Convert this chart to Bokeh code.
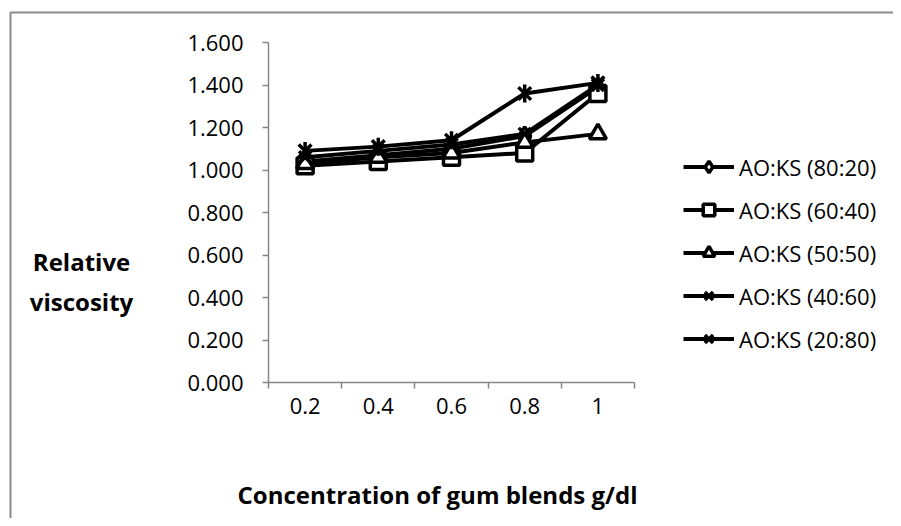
from bokeh.plotting import figure
from bokeh.models import (Range1d, FixedTicker, PrintfTickFormatter, Legend, LegendItem,
                          Label)
from bokeh.embed import file_html
from bokeh.resources import INLINE
import math

# ---- data ----
conc = [0.2, 0.4, 0.6, 0.8, 1.0]
x_labels = ["0.2", "0.4", "0.6", "0.8", "1"]
y_ticks = [0.0, 0.2, 0.4, 0.6, 0.8, 1.0, 1.2, 1.4, 1.6]

names = ["AO:KS (80:20)", "AO:KS (60:40)", "AO:KS (50:50)", "AO:KS (40:60)", "AO:KS (20:80)"]
s_80_20 = [1.04, 1.07, 1.10, 1.16, 1.39]
s_60_40 = [1.02, 1.04, 1.06, 1.08, 1.36]
s_50_50 = [1.03, 1.06, 1.08, 1.13, 1.17]
s_40_60 = [1.06, 1.09, 1.12, 1.17, 1.40]
s_20_80 = [1.09, 1.11, 1.14, 1.36, 1.41]
series = [s_80_20, s_60_40, s_50_50, s_40_60, s_20_80]

FONT = "Open Sans"
GRAY = "#868686"

# ---- layout (page pixels) ----
W, H = 893, 518
OX, OY = 0, 1            # where the canvas lands on the page
AX_L, AX_R = 268, 634    # x axis extent on page
AX_T, AX_B = 43, 383     # y axis extent on page (top = 1.6, bottom = 0)

step = conc[1] - conc[0]
x_lo, x_hi = conc[0] - step / 2, conc[-1] + step / 2
y_lo, y_hi = y_ticks[0], y_ticks[-1]
kx = (AX_R - AX_L) / (x_hi - x_lo)
ky = (AX_B - AX_T) / (y_hi - y_lo)
x_start = x_lo - (AX_L - OX) / kx
x_end = x_hi + (OX + W - AX_R) / kx
y_start = y_lo - (OY + H - AX_B) / ky
y_end = y_hi + (AX_T - OY) / ky


def sx(px):
    return px - OX


def sy(py):
    return (OY + H) - py


def dx(px):
    return x_start + (px - OX) / kx


def dy(py):
    return y_end - (py - OY) / ky


p = figure(width=W, height=H, output_backend="svg", toolbar_location=None, title=None,
           x_range=Range1d(x_start, x_end), y_range=Range1d(y_start, y_end),
           min_border=0)
p.outline_line_color = None
p.grid.visible = False
p.background_fill_color = "white"
p.border_fill_color = "white"

# chart border (only its top and left edges fall inside the window)
p.line([dx(10), dx(10), x_end + 1], [y_start - 1, dy(13), dy(13)],
       line_color="#8a8a8a", line_width=2)

# y axis
ya = p.yaxis[0]
ya.fixed_location = x_lo
ya.bounds = (y_lo, y_hi)
ya.ticker = FixedTicker(ticks=y_ticks)
ya.formatter = PrintfTickFormatter(format="%.3f")
ya.axis_line_color = GRAY
ya.axis_line_width = 1.5
ya.major_tick_line_color = GRAY
ya.major_tick_line_width = 1.5
ya.major_tick_out = 6
ya.major_tick_in = 0
ya.minor_tick_line_color = None
ya.major_label_standoff = 19
ya.major_label_text_font = FONT
ya.major_label_text_font_size = "22px"
ya.major_label_text_color = "black"

# x axis
xa = p.xaxis[0]
xa.fixed_location = y_lo
xa.bounds = (x_lo, x_hi)
bounds = [c - step / 2 for c in conc] + [conc[-1] + step / 2]
xa.ticker = FixedTicker(ticks=conc, minor_ticks=bounds)
xa.major_label_overrides = {c: l for c, l in zip(conc, x_labels)}
xa.axis_line_color = GRAY
xa.axis_line_width = 1.5
xa.major_tick_line_color = None
xa.major_tick_out = 0
xa.major_tick_in = 0
xa.minor_tick_line_color = GRAY
xa.minor_tick_line_width = 1.5
xa.minor_tick_out = 6
xa.minor_tick_in = 0
xa.major_label_standoff = 9
xa.major_label_text_font = FONT
xa.major_label_text_font_size = "22px"
xa.major_label_text_color = "black"

# series
markers = ["diamond", "square", "triangle", "x", "x"]
sizes = [18, 16, 17, 17, 18]
items = []
for name, ys, mk, sz in zip(names, series, markers, sizes):
    rl = p.line(conc, ys, line_color="black", line_width=4)
    rs = p.scatter(conc, ys, marker=mk, size=sz, line_color="black", line_width=3.5,
                   fill_color="white")
    rends = [rl, rs]
    if name == names[4]:
        rd = p.scatter(conc, ys, marker="dash", angle=math.pi / 2, size=sz,
                       line_color="black", line_width=3.5)
        rends.append(rd)
    items.append(LegendItem(label=name, renderers=rends))

ROW, GAP = 29, 13
legend_h = 5 * ROW + 4 * GAP
legend_top = 172 - ROW / 2
legend = Legend(items=items, location=(sx(683), sy(legend_top + legend_h)),
                orientation="vertical",
                glyph_width=51, glyph_height=ROW, label_height=ROW, spacing=GAP,
                label_standoff=5, padding=0, margin=0,
                border_line_color=None, background_fill_alpha=0,
                label_text_font=FONT, label_text_font_size="22px",
                label_text_color="black")
p.add_layout(legend, "center")

# titles
title_kw = dict(x_units="screen", y_units="screen", text_font=FONT, text_font_style="bold",
                text_font_size="24px", text_color="black", text_align="center",
                text_baseline="middle")
p.add_layout(Label(x=sx(81), y=sy(262), text="Relative", **title_kw))
p.add_layout(Label(x=sx(81), y=sy(302), text="viscosity", **title_kw))
p.add_layout(Label(x=sx(437), y=sy(495), text="Concentration of gum blends g/dl", **title_kw))

open("out.html", "w").write(file_html(p, INLINE))
